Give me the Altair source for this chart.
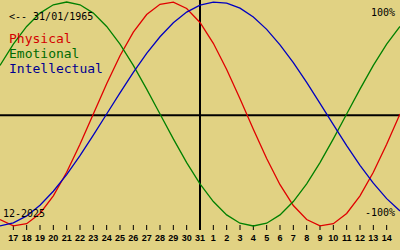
import altair as alt
import pandas as pd

birth_label = "<-- 31/01/1965"
month_label = "12-2025"
top_label = "100%"
bottom_label = "-100%"
day_labels = [16, 17, 18, 19, 20, 21, 22, 23, 24, 25, 26, 27, 28, 29, 30, 31,
              1, 2, 3, 4, 5, 6, 7, 8, 9, 10, 11, 12, 13, 14, 15]
today_index = [15]

physical = [-0.942, -0.998, -0.979, -0.888, -0.731, -0.520, -0.270, 0.0,
            0.270, 0.520, 0.731, 0.888, 0.979, 0.998, 0.942, 0.817,
            0.631, 0.398, 0.136, -0.136, -0.398, -0.631, -0.817, -0.942,
            -0.998, -0.979, -0.888, -0.731, -0.520, -0.270, 0.0]
emotional = [0.434, 0.623, 0.782, 0.901, 0.975, 1.0, 0.975, 0.901,
             0.782, 0.623, 0.434, 0.222, 0.0, -0.222, -0.434, -0.623,
             -0.782, -0.901, -0.975, -1.0, -0.975, -0.901, -0.782, -0.623,
             -0.434, -0.222, 0.0, 0.222, 0.434, 0.623, 0.782]
intellectual = [-0.999, -0.972, -0.910, -0.815, -0.690, -0.541, -0.372, -0.189,
                0.0, 0.189, 0.372, 0.541, 0.690, 0.815, 0.910, 0.972,
                0.999, 0.990, 0.945, 0.866, 0.756, 0.618, 0.458, 0.282,
                0.095, -0.095, -0.282, -0.458, -0.618, -0.756, -0.866]

series_names = ["Physical", "Emotional", "Intellectual"]
line_colors = ["#e00000", "#008000", "#0000c0"]
text_colors = ["#d40000", "#006a00", "#000090"]

rows = []
for name, vals in zip(series_names, [physical, emotional, intellectual]):
    for i, v in enumerate(vals):
        rows.append({"i": i, "v": v, "series": name})
df = pd.DataFrame(rows)

xs = alt.Scale(domain=[0, 30], range=[0, 400])
ys = alt.Scale(domain=[-1, 1], range=[226, 2])

lines = alt.Chart(df).mark_line(strokeWidth=1.3, interpolate="linear").encode(
    x=alt.X("i:Q", scale=xs, axis=None),
    y=alt.Y("v:Q", scale=ys, axis=None),
    color=alt.Color("series:N", scale=alt.Scale(domain=series_names, range=line_colors), legend=None),
)

zero_line = alt.Chart(pd.DataFrame({"a": [0]})).mark_rule(color="black", strokeWidth=2).encode(
    x=alt.value(0), x2=alt.value(400), y=alt.value(115.3)
)

today_line = alt.Chart(pd.DataFrame({"i": today_index})).mark_rule(color="black", strokeWidth=2).encode(
    x=alt.X("i:Q", scale=xs, axis=None), y=alt.value(0), y2=alt.value(230)
)

tick_df = pd.DataFrame({"i": list(range(1, 30)), "label": [str(d) for d in day_labels[1:30]]})

ticks = alt.Chart(tick_df).mark_rule(color="black", strokeWidth=1).encode(
    x=alt.X("i:Q", scale=xs, axis=None), y=alt.value(225), y2=alt.value(230)
)

tick_text = alt.Chart(tick_df).mark_text(
    font="Liberation Sans", fontSize=9, fontWeight="bold", align="center",
    baseline="alphabetic", color="black"
).encode(x=alt.X("i:Q", scale=xs, axis=None), y=alt.value(241), text="label:N")


def label(t, x, y, size, color, align="left"):
    return alt.Chart(pd.DataFrame({"t": [t]})).mark_text(
        font="DejaVu Sans Mono", fontSize=size, align=align, baseline="alphabetic", color=color
    ).encode(x=alt.value(x), y=alt.value(y), text="t:N")


texts = [
    label(birth_label, 9, 20, 10, "black"),
    label(series_names[0], 9, 43, 13, text_colors[0]),
    label(series_names[1], 9, 58, 13, text_colors[1]),
    label(series_names[2], 9, 73, 13, text_colors[2]),
    label(top_label, 395, 16, 10, "black", "right"),
    label(bottom_label, 395, 216, 10, "black", "right"),
    label(month_label, 3, 217, 10, "black"),
]

chart = alt.layer(zero_line, today_line, ticks, tick_text, lines, *texts).properties(
    width=400, height=250, background="#e1d283", padding=0, autosize="none"
).configure_view(stroke=None)

chart.save("out.html", embed_options={"renderer": "svg", "actions": False})
